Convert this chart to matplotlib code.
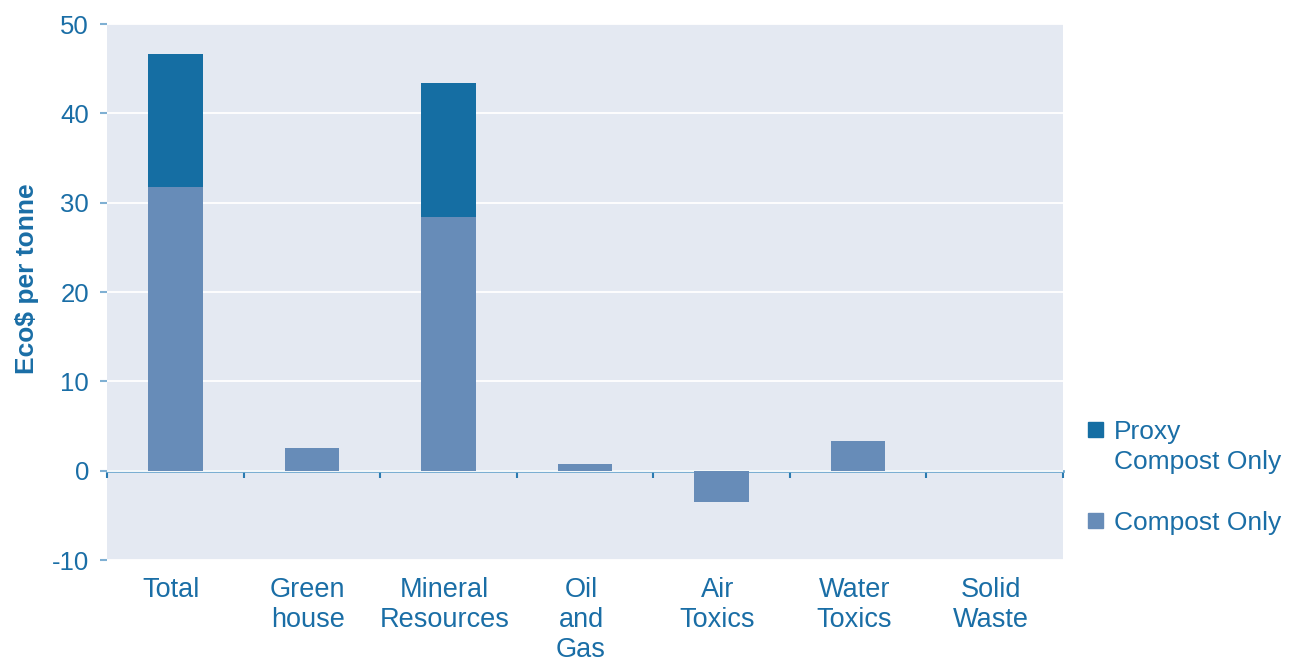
import matplotlib.pyplot as plt
from matplotlib.patches import Rectangle
from matplotlib.transforms import ScaledTranslation

plt.rcParams['font.family'] = ['Liberation Sans', 'DejaVu Sans']
plt.rcParams['axes.unicode_minus'] = False

categories = ['Total', 'Green\nhouse', 'Mineral\nResources', 'Oil\nand\nGas',
              'Air\nToxics', 'Water\nToxics', 'Solid\nWaste']
compost_only = [31.7, 2.5, 28.4, 0.7, -3.5, 3.3, 0.0]
proxy_compost = [14.9, 0.0, 15.0, 0.0, 0.0, 0.0, 0.0]
legend_labels = ['Proxy\nCompost Only', 'Compost Only']

txt = '#1a6ea6'
dark = '#156ea3'
light = '#678cb8'
bg = '#e4e9f2'

fig = plt.figure(figsize=(12.93, 6.64), dpi=100)
ax = fig.add_axes([107/1293, 104/664, 956/1293, 536/664])
ax.set_facecolor(bg)

x = list(range(len(categories)))
ax.bar(x, compost_only, width=0.4, color=light, zorder=3)
ax.bar(x, proxy_compost, width=0.4, bottom=compost_only, color=dark, zorder=3)

ax.set_xlim(-0.5, len(categories) - 0.5)
ax.set_ylim(-10, 50)
ax.set_yticks([-10, 0, 10, 20, 30, 40, 50])
ax.yaxis.grid(True, color='white', lw=1.3, zorder=1)
ax.set_axisbelow(True)
for s in ax.spines.values():
    s.set_visible(False)

ax.tick_params(axis='y', colors='#7fb0d3', length=5, width=1.5, pad=8,
               labelsize=18.5, labelcolor=txt)
ax.set_xticks(x)
ax.set_xticklabels(categories, fontsize=19.5, color=txt, linespacing=1.2)
ax.tick_params(axis='x', length=0, pad=12.5)
shift = ScaledTranslation(-4/100, 0, fig.dpi_scale_trans)
for lab in ax.get_xticklabels():
    lab.set_transform(lab.get_transform() + shift)

# zero line with boundary ticks
sec = ax.secondary_xaxis(1/6)
sec.set_xticks([i - 0.5 for i in range(len(categories) + 1)])
sec.set_xticklabels([])
sec.spines['bottom'].set_color('#6fa9cf')
sec.spines['bottom'].set_linewidth(2)
sec.tick_params(axis='x', direction='out', length=5, width=1.5, colors='#2a7ab0')

ax.set_ylabel('Eco$ per tonne', fontsize=19, fontweight='bold', color=txt)
ax.yaxis.set_label_coords(-68/956, 0.524)

# legend
for (yy, col, lab) in [(422, dark, legend_labels[0]), (513, light, legend_labels[1])]:
    fig.patches.append(Rectangle((1088/1293, 1 - (yy + 15)/664), 15/1293, 15/664,
                                 transform=fig.transFigure, color=col))
    fig.text(1114/1293, 1 - (yy - 2)/664, lab, fontsize=19, color=txt,
             va='top', ha='left', linespacing=1.3)

fig.savefig('out.png', dpi=100)
